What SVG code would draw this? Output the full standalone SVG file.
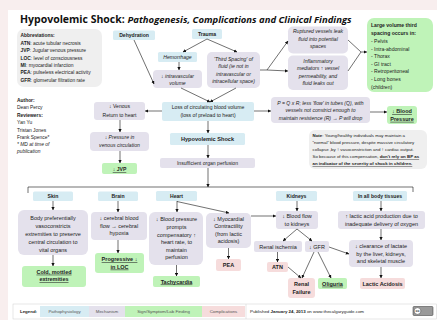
<svg xmlns="http://www.w3.org/2000/svg" width="437" height="320" viewBox="0 0 437 320">
<defs>
<marker id="ah" viewBox="0 0 6 6" refX="5.6" refY="3" markerWidth="3.4" markerHeight="3.4" markerUnits="userSpaceOnUse" orient="auto"><path d="M0,0 L6,3 L0,6 z" fill="#111"/></marker>
</defs>
<style>
text{font-family:"Liberation Sans","DejaVu Sans",sans-serif;font-size:5.1px;fill:#222;text-anchor:middle}
.pp{fill:#d7ecf3}.me{fill:#e4e1ec}.sg{fill:#bff3b8}.co{fill:#f6dcdc}.gr{fill:#efefef}
.b{font-weight:bold}.i{font-style:italic}.u{text-decoration:underline}
.l{text-anchor:start}.s{font-size:4.4px}.a{font-size:4.9px}.m{font-size:5.5px}
.ln{fill:none;stroke:#111;stroke-width:0.6}
.ar{fill:none;stroke:#111;stroke-width:0.6;marker-end:url(#ah)}
</style>
<rect x="0" y="0" width="437" height="320" fill="#f8eeee"/>
<rect x="8" y="10" width="429" height="310" fill="#ffffff"/>
<text x="20" y="23" class="l" style="font-family:'Open Sans','Liberation Sans',sans-serif;font-size:10.5px;font-weight:bold;fill:#111">Hypovolemic Shock: <tspan font-style="italic" font-size="9.5">Pathogenesis, Complications and Clinical Findings</tspan></text>

<g id="abbreviations">
<rect x="17" y="29" width="85" height="58" rx="7" class="gr"/>
<text class="l a" x="20.5" y="37.4"><tspan class="b">Abbreviations:</tspan></text>
<text class="l a" x="20.5" y="45"><tspan class="b">ATN</tspan>: acute tubular necrosis</text>
<text class="l a" x="20.5" y="52.4"><tspan class="b">JVP</tspan>: Jugular venous pressure</text>
<text class="l a" x="20.5" y="60"><tspan class="b">LOC</tspan>: level of consciousness</text>
<text class="l a" x="20.5" y="67.4"><tspan class="b">MI</tspan>: myocardial infarction</text>
<text class="l a" x="20.5" y="74.4"><tspan class="b">PEA</tspan>: pulseless electrical activity</text>
<text class="l a" x="20.5" y="81.7"><tspan class="b">GFR</tspan>: glomerular filtration rate</text>
</g>
<g id="author">
<text class="l a b" x="17" y="101.7">Author:</text>
<text class="l a" x="17" y="109">Dean Percy</text>
<text class="l a b" x="17" y="116.5">Reviewers:</text>
<text class="l a" x="17" y="124">Yan Yu</text>
<text class="l a" x="17" y="131.5">Tristan Jones</text>
<text class="l a" x="17" y="139">Frank Spence*</text>
<text class="l a i" x="17" y="146">* MD at time of</text>
<text class="l a i" x="17" y="152.5">publication</text>
</g>

<g id="dehydration"><rect x="113" y="30.5" width="42" height="9.5" rx="1.5" class="pp"/><text class="b" x="134" y="37">Dehydration</text></g>
<g id="trauma"><rect x="192" y="29" width="30" height="10" rx="1.5" class="pp"/><text class="b" x="207" y="35.8">Trauma</text></g>
<g id="hemorrhage"><rect x="158" y="52" width="39" height="10" rx="1.5" class="pp"/><text class="i" x="177.5" y="58.7">Hemorrhage</text></g>
<g id="intravascular"><rect x="153" y="70" width="49" height="18" rx="4" class="me"/><text class="i" x="177.5" y="77.5">↓ intravascular</text><text class="i" x="177.5" y="84.5">volume</text></g>
<g id="third-spacing"><rect x="207" y="52" width="53" height="36" rx="5" class="me"/>
<text class="i" x="233.5" y="61">'Third Spacing' of</text><text class="i" x="233.5" y="68.4">fluid (ie not in</text><text class="i" x="233.5" y="75.7">intravascular or</text><text class="i" x="233.5" y="83.2">intracellular space)</text></g>
<g id="ruptured"><rect x="288" y="26.5" width="60" height="27" rx="5" class="me"/>
<text class="i" x="318" y="32.8">Ruptured vessels leak</text><text class="i" x="318" y="40.6">fluid into potential</text><text class="i" x="318" y="48.4">spaces</text></g>
<g id="inflammatory"><rect x="288" y="55.5" width="60" height="34.5" rx="5" class="me"/>
<text class="i" x="318" y="62.7">Inflammatory</text><text class="i" x="318" y="70">mediators ↑ vessel</text><text class="i" x="318" y="77.7">permeability, and</text><text class="i" x="318" y="85">fluid leaks out</text></g>
<g id="third-spacing-sites"><rect x="367" y="18" width="66" height="74" rx="7" class="sg"/>
<text class="l b" x="371" y="27.4">Large volume third</text><text class="l b" x="371" y="35">spacing occurs in:</text>
<text class="l" x="371" y="43.4">- Pelvis</text><text class="l" x="371" y="50.8">- Intra-abdominal</text><text class="l" x="371" y="58.4">- Thorax</text><text class="l" x="371" y="66">- GI tract</text><text class="l" x="371" y="73.4">- Retroperitoneal</text><text class="l" x="371" y="81">- Long bones</text><text class="l" x="371" y="89">(children)</text></g>

<g id="loss"><rect x="162" y="102" width="92" height="19" rx="2" class="pp"/><text x="208" y="109.4">Loss of circulating blood volume</text><text x="208" y="116.8">(loss of preload to heart)</text></g>
<g id="shock"><rect x="170" y="133" width="75" height="12" rx="1.5" class="pp"/><text class="b" x="207.5" y="141.2" style="font-size:5.6px">Hypovolemic Shock</text></g>
<g id="perfusion"><rect x="160" y="158" width="95" height="10" rx="2" class="me"/><text x="207.5" y="165">Insufficient organ perfusion</text></g>
<g id="venous-return"><rect x="94" y="102" width="51" height="18" rx="3" class="me"/><text x="119.5" y="108.4">↓ Venous</text><text x="119.5" y="116.7">Return to heart</text></g>
<g id="venous-pressure"><rect x="90" y="132" width="59" height="19" rx="4" class="me"/><text class="i" x="119.5" y="139">↓ Pressure in</text><text class="i" x="119.5" y="146.7">venous circulation</text></g>
<g id="jvp"><rect x="102" y="163" width="35" height="11" rx="2" class="sg"/><text class="b u" x="119.5" y="171">↓ JVP</text></g>
<g id="pqr"><rect x="271" y="97" width="99" height="26" rx="4" class="me"/>
<text class="i" x="320.5" y="104.8">P = Q x R; less 'flow' in tubes (Q), with</text><text class="i" x="320.5" y="112.3">vessels not constrict enough to</text><text class="i" x="320.5" y="119.8">maintain resistence (R) → P will drop</text></g>
<g id="blood-pressure"><rect x="387" y="106" width="30" height="18" rx="3" class="sg"/><text class="b u" x="402" y="113.3" style="font-size:5.5px">↓ Blood</text><text class="b u" x="402" y="120.8" style="font-size:5.5px">Pressure</text></g>
<g id="note"><rect x="309" y="130" width="118" height="39" rx="6" class="gr"/>
<text class="l s" x="312.5" y="137.4"><tspan class="b">Note</tspan>: Young/healthy individuals may maintain a</text>
<text class="l s" x="312.5" y="144">“normal” blood pressure, despite massive circulatory</text>
<text class="l s" x="312.5" y="150.7">collapse ,by ↑ vasoconstriction and ↑ cardiac output.</text>
<text class="l s" x="312.5" y="158.2">So  because of this compensation, <tspan class="b u">don't rely on BP as</tspan></text>
<text class="l s b u" x="312.5" y="165">an indicator of the severity of shock in children.</text></g>

<g id="skin"><rect x="33" y="191.5" width="40" height="9.5" rx="1.5" class="pp"/><text class="b" x="53" y="198">Skin</text></g>
<g id="brain"><rect x="98" y="191.5" width="40" height="9.5" rx="1.5" class="pp"/><text class="b" x="118" y="198">Brain</text></g>
<g id="heart"><rect x="156" y="191" width="41" height="10" rx="1.5" class="pp"/><text class="b" x="176.5" y="197.8">Heart</text></g>
<g id="kidneys"><rect x="276" y="191" width="41" height="10" rx="1.5" class="pp"/><text class="b" x="296.5" y="197.8">Kidneys</text></g>
<g id="tissues"><rect x="353" y="191" width="54" height="10" rx="1.5" class="pp"/><text class="b" x="380" y="197.8">In all body tissues</text></g>

<g id="vasoconstriction"><rect x="18" y="210" width="70" height="45" rx="6" class="me"/>
<text class="m" x="53" y="219.5">Body preferentially</text><text class="m" x="53" y="227.7">vasoconstricts</text><text class="m" x="53" y="235.7">extremities to preserve</text><text class="m" x="53" y="244">central circulation to</text><text class="m" x="53" y="251.7">vital organs</text></g>
<g id="cold"><rect x="22" y="266" width="64" height="21" rx="3" class="sg"/><text class="b u m" x="54" y="273.7">Cold, mottled</text><text class="b u m" x="54" y="281.2">extremities</text></g>
<g id="cerebral"><rect x="91" y="212" width="56" height="28" rx="4" class="me"/><text class="m" x="119" y="220">↓ cerebral blood</text><text class="m" x="119" y="227.7">flow → cerebral</text><text class="m" x="119" y="235.2">hypoxia</text></g>
<g id="loc"><rect x="95" y="253" width="49" height="20" rx="3" class="sg"/><text class="b u m" x="119.5" y="261">Progressive ↓</text><text class="b u m" x="119.5" y="268.6">in LOC</text></g>
<g id="heart-rate"><rect x="149" y="212" width="54" height="53" rx="6" class="me"/>
<text class="m" x="176.5" y="221">↓ Blood pressure</text><text class="m" x="176.5" y="229">prompts</text><text class="m" x="176.5" y="236.7">compensatory ↑</text><text class="m" x="176.5" y="244.4">heart rate, to</text><text class="m" x="176.5" y="251.7">maintain</text><text class="m" x="176.5" y="259.4">perfusion</text></g>
<g id="tachycardia"><rect x="153" y="276" width="47" height="11" rx="2" class="sg"/><text class="b u m" x="176.5" y="283.5">Tachycardia</text></g>
<g id="contractility"><rect x="206" y="213" width="45" height="35" rx="5" class="me"/>
<text class="m" x="228.5" y="221">↓ Myocardial</text><text class="m" x="228.5" y="228.4">Contractility</text><text class="m" x="228.5" y="236">(from lactic</text><text class="m" x="228.5" y="243.4">acidosis)</text></g>
<g id="pea"><rect x="216" y="259" width="25" height="12" rx="2" class="co"/><text class="b m" x="228.5" y="267.4">PEA</text></g>
<g id="renal-flow"><rect x="276" y="211" width="42" height="18" rx="3" class="me"/><text class="m" x="297" y="217.9">↓ Blood flow</text><text class="m" x="297" y="226">to kidneys</text></g>
<g id="ischemia"><rect x="254" y="241" width="48" height="11" rx="2" class="me"/><text class="m" x="278" y="248.5">Renal ischemia</text></g>
<g id="gfr"><rect x="305" y="241" width="24" height="11" rx="2" class="me"/><text class="m" x="317" y="248.5">↓ GFR</text></g>
<g id="atn"><rect x="267" y="262" width="21" height="10" rx="2" class="co"/><text class="b m" x="277.5" y="269">ATN</text></g>
<g id="renal-failure"><rect x="288" y="278" width="27" height="20" rx="3" class="co"/><text class="b m" x="301.5" y="286">Renal</text><text class="b m" x="301.5" y="294.4">Failure</text></g>
<g id="oliguria"><rect x="318" y="278" width="29" height="11" rx="2" class="sg"/><text class="b u m" x="332.5" y="285.7">Oliguria</text></g>
<g id="lactic-production"><rect x="338" y="211" width="87" height="18" rx="3" class="me"/><text class="m" x="381.5" y="217.9">↑ lactic acid production due to</text><text class="m" x="381.5" y="226">inadequate delivery of oxygen</text></g>
<g id="clearance"><rect x="349" y="240" width="64" height="27" rx="4" class="me"/><text class="m" x="381" y="247.7">↓ clearance of lactate</text><text class="m" x="381" y="255.7">by the liver, kidneys,</text><text class="m" x="381" y="263.4">and skeletal muscle</text></g>
<g id="lactic-acidosis"><rect x="360" y="278" width="45" height="11" rx="2" class="co"/><text class="b m" x="382.5" y="285.7">Lactic Acidosis</text></g>

<g id="connectors">
<path class="ar" d="M134,40 L154,84"/>
<path class="ar" d="M207,39 L183,52"/>
<path class="ar" d="M207,39 L237,52"/>
<path class="ar" d="M179,62 L179,70"/>
<path class="ar" d="M181,88 L210,102"/>
<path class="ar" d="M236,88 L210,102"/>
<path class="ln" d="M260,70 L267,70"/>
<path class="ar" d="M267,70 L288,41"/>
<path class="ar" d="M267,70 L288,71"/>
<path class="ln" d="M348,40 L361,52 M348,71 L361,52"/>
<path class="ar" d="M361,52 L367,52"/>
<path class="ar" d="M162,111 L145,111"/>
<path class="ar" d="M254,111 L271,111"/>
<path class="ar" d="M370,112 L387,112"/>
<path class="ar" d="M120,120 L120,132"/>
<path class="ar" d="M120,151 L120,163"/>
<path class="ar" d="M208,121 L208,133"/>
<path class="ar" d="M208,145 L208,158"/>
<path class="ar" d="M208,168 L208,187"/>
<path class="ln" d="M28,193 L28,187 L413,187 L413,192"/>
<path class="ar" d="M53,201 L53,210"/>
<path class="ar" d="M53,255 L53,266"/>
<path class="ar" d="M118,201 L118,212"/>
<path class="ar" d="M118,240 L118,253"/>
<path class="ar" d="M177,201 L177,212"/>
<path class="ar" d="M177,201.5 L229,213"/>
<path class="ar" d="M176.5,265 L176.5,276"/>
<path class="ar" d="M228.5,248 L228.5,259"/>
<path class="ar" d="M251,216 L276,216"/>
<path class="ar" d="M297,201 L297,211"/>
<path class="ar" d="M297,229 L283,241"/>
<path class="ar" d="M297,229 L312,241"/>
<path class="ar" d="M277.5,252 L277.5,262"/>
<path class="ar" d="M288,267 L301,278"/>
<path class="ar" d="M314,252 L302,278"/>
<path class="ar" d="M318,252 L331,278"/>
<path class="ar" d="M329,247 L349,254"/>
<path class="ar" d="M381,201 L381,211"/>
<path class="ar" d="M381,229 L381,240"/>
<path class="ar" d="M381,267 L381,278"/>
</g>

<g id="legend">
<rect x="13" y="304" width="423.5" height="15" fill="#fff" stroke="#cfcfcf" stroke-width="0.5"/>
<text class="l b s" x="20" y="313">Legend:</text>
<rect x="40" y="306" width="49" height="11" class="pp"/><text class="s" x="64.5" y="313" style="fill:#555">Pathophysiology</text>
<rect x="89" y="306" width="36" height="11" class="me"/><text class="s" x="107" y="313" style="fill:#555">Mechanism</text>
<rect x="125" y="306" width="77" height="11" class="sg"/><text class="s" x="163.5" y="313" style="fill:#555">Sign/Symptom/Lab Finding</text>
<rect x="202" y="306" width="43" height="11" class="co"/><text class="s" x="223.5" y="313" style="fill:#555">Complications</text>
<path d="M246,304 L246,319" stroke="#cfcfcf" stroke-width="0.5"/>
<text class="l s" x="250" y="313">Published <tspan class="b">January 24, 2013</tspan> on www.thecalgaryguide.com</text>
<rect x="413" y="306.5" width="20" height="9" rx="1" fill="#9a9a9a" stroke="#333" stroke-width="0.5"/>
<circle cx="417.5" cy="311" r="3.4" fill="#fff" stroke="#333" stroke-width="0.5"/>
<text x="417.5" y="312.4" style="font-size:3.6px;font-weight:bold;fill:#333">cc</text>
</g>
</svg>
